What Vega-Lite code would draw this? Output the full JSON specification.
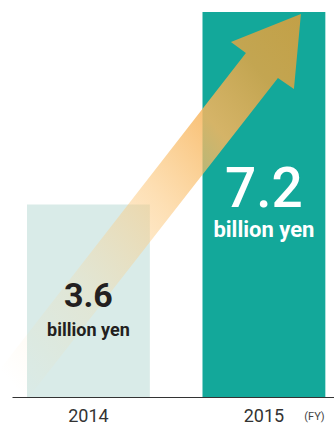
{
  "$schema": "https://vega.github.io/schema/vega-lite/v6.json",
  "width": 322,
  "height": 385,
  "autosize": {"type": "none"},
  "padding": {"left": 12, "top": 12, "right": 0, "bottom": 27},
  "background": "white",
  "config": {"view": {"stroke": null}, "font": "Roboto"},
  "data": {"values": [
    {"year": "2014", "value": 3.6, "unit": "billion yen"},
    {"year": "2015", "value": 7.2, "unit": "billion yen"}
  ]},
  "encoding": {
    "x": {
      "field": "year", "type": "nominal",
      "scale": {"domain": ["2014", "2015"], "paddingInner": 0.3, "paddingOuter": 0.0674, "align": 0.634},
      "axis": {
        "title": "(FY)", "titleX": 302, "titleY": 22, "titleAngle": 0, "titleAlign": "center",
        "titleBaseline": "alphabetic", "titleFont": "Roboto", "titleFontSize": 11,
        "titleFontWeight": "normal", "titleColor": "#444444",
        "labelAngle": 0, "labelFont": "Roboto", "labelFontSize": 18, "labelColor": "#333333",
        "labelBaseline": "alphabetic", "labelPadding": 24, "ticks": false,
        "domainColor": "#333333", "domainWidth": 1, "grid": false
      }
    },
    "y": {"field": "value", "type": "quantitative", "scale": {"domain": [0, 7.2], "nice": false}, "axis": null}
  },
  "layer": [
    {
      "mark": {"type": "bar"},
      "encoding": {
        "color": {"field": "year", "type": "nominal", "scale": {"domain": ["2014", "2015"], "range": ["#d9ebe8", "#13a89a"]}, "legend": null}
      }
    },
    {
      "transform": [{"filter": "datum.year === '2015'"}],
      "mark": {
        "type": "point",
        "shape": "M 0.37 0.02 L 0.30 0.77 L 0.14 0.66 L -2.35 3.85 L -2.666 3.606 L -0.18 0.41 L -0.33 0.30 Z",
        "size": 40000,
        "filled": true,
        "opacity": 1,
        "strokeWidth": 0,
        "fill": {
          "gradient": "linear", "x1": 0.05, "y1": 0.97, "x2": 1, "y2": 0,
          "stops": [
            {"offset": 0, "color": "rgba(255,215,150,0)"},
            {"offset": 0.25, "color": "rgba(254,212,145,0.22)"},
            {"offset": 0.5, "color": "rgba(252,198,120,0.55)"},
            {"offset": 0.7, "color": "rgba(247,182,95,0.85)"},
            {"offset": 0.85, "color": "rgba(210,165,75,0.92)"},
            {"offset": 1, "color": "rgba(200,160,68,0.97)"}
          ]
        }
      }
    },
    {
      "transform": [{"filter": "datum.year === '2014'"}],
      "mark": {"type": "text", "font": "Roboto", "fontSize": 34, "fontWeight": "bold", "color": "#231f20", "baseline": "alphabetic", "dy": 102},
      "encoding": {"text": {"field": "value", "type": "quantitative", "format": ".1f"}}
    },
    {
      "transform": [{"filter": "datum.year === '2014'"}],
      "mark": {"type": "text", "font": "Roboto", "fontSize": 18, "fontWeight": "bold", "color": "#231f20", "baseline": "alphabetic", "dy": 131.5},
      "encoding": {"text": {"field": "unit", "type": "nominal"}}
    },
    {
      "transform": [{"filter": "datum.year === '2015'"}],
      "mark": {"type": "text", "font": "Roboto", "fontSize": 55, "fontWeight": 500, "color": "#ffffff", "baseline": "alphabetic", "dy": 195},
      "encoding": {"text": {"field": "value", "type": "quantitative", "format": ".1f"}}
    },
    {
      "transform": [{"filter": "datum.year === '2015'"}],
      "mark": {"type": "text", "font": "Roboto", "fontSize": 22, "fontWeight": "bold", "color": "#ffffff", "baseline": "alphabetic", "dy": 225},
      "encoding": {"text": {"field": "unit", "type": "nominal"}}
    }
  ]
}
